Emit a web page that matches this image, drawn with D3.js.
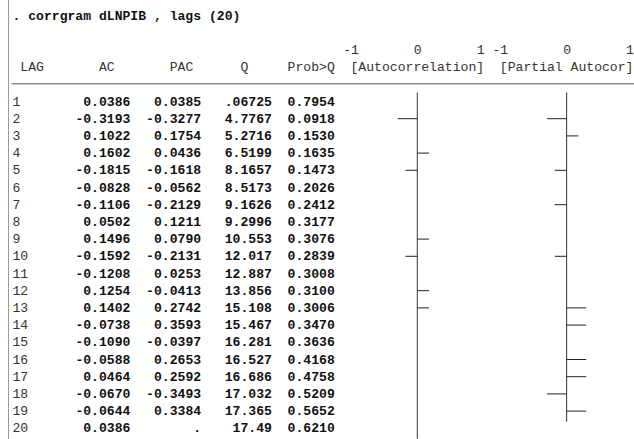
<!doctype html>
<html>
  <head>
    <meta charset="utf-8">
    <title>corrgram dLNPIB</title>
    <style>
      body { margin: 0; background: #fff; }
      text { font-family: "Liberation Mono", "Courier New", monospace; font-size: 13.1px; }
      .res { font-weight: bold; fill: #111; }
      .txt { fill: #333; }
    </style>
    <script src="https://cdnjs.cloudflare.com/ajax/libs/d3/7.8.5/d3.min.js"></script>
  </head>
  <body>
    <div id="my-svg-chart"></div>
    <script>
      // Daten aus dem Stata-Output
      const command = ". corrgram dLNPIB , lags (20)";
      const headers = ["LAG", "AC", "PAC", "Q", "Prob>Q", "[Autocorrelation]", "[Partial Autocor]"];
      const ticks = [-1, 0, 1];
      const lags = [1, 2, 3, 4, 5, 6, 7, 8, 9, 10, 11, 12, 13, 14, 15, 16, 17, 18, 19, 20];
      const ac = [0.0386, -0.3193, 0.1022, 0.1602, -0.1815, -0.0828, -0.1106, 0.0502, 0.1496, -0.1592,
                  -0.1208, 0.1254, 0.1402, -0.0738, -0.1090, -0.0588, 0.0464, -0.0670, -0.0644, 0.0386];
      const pac = [0.0385, -0.3277, 0.1754, 0.0436, -0.1618, -0.0562, -0.2129, 0.1211, 0.0790, -0.2131,
                   0.0253, -0.0413, 0.2742, 0.3593, -0.0397, 0.2653, 0.2592, -0.3493, 0.3384, null];
      const q = [0.06725, 4.7767, 5.2716, 6.5199, 8.1657, 8.5173, 9.1626, 9.2996, 10.553, 12.017,
                 12.887, 13.856, 15.108, 15.467, 16.281, 16.527, 16.686, 17.032, 17.365, 17.49];
      const prob = [0.7954, 0.0918, 0.1530, 0.1635, 0.1473, 0.2026, 0.2412, 0.3177, 0.3076, 0.2839,
                    0.3008, 0.3100, 0.3006, 0.3470, 0.3636, 0.4168, 0.4758, 0.5209, 0.5652, 0.6210];

      const data = lags.map((l, i) => ({ lag: l, ac: ac[i], pac: pac[i], q: q[i], prob: prob[i] }));

      const width = 634, height = 439;
      const cw = 7.86;              // Breite eines Zeichens (monospace)
      const col = c => 12.5 + c * cw;  // Spalte -> x
      const lineY = d3.scaleLinear().domain([0, 1]).range([15, 32.2]); // Zeile -> y (Mitte)
      const rowLine = lag => lag + 4;  // Datenzeilen starten bei Zeile 5

      // Stata-Format fuer Q (%9.0g-aehnlich)
      const fmtQ = v => {
        let s = (+v.toPrecision(5)).toString();
        if (s.startsWith("0.")) s = s.slice(1);
        return s;
      };
      const fmt4 = v => v == null ? "." : v.toFixed(4);

      const svg = d3.select('#my-svg-chart')
        .append('svg')
        .attr('width', width)
        .attr('height', height);

      // linker Rand des Fensters
      svg.append('line')
        .attr('x1', 8.5).attr('x2', 8.5)
        .attr('y1', 0).attr('y2', height)
        .attr('stroke', '#9a9a9a');

      // Befehlszeile
      svg.append('text')
        .attr('class', 'res')
        .attr('x', col(0))
        .attr('y', lineY(0) + 4.5)
        .text(command);

      // Kopfzeile (rechtsbuendig an Spaltenende)
      const headEnd = [4, 13, 23, 30, 41, 60, 79];
      svg.selectAll('text.head')
        .data(headers)
        .join('text')
        .attr('class', 'head txt')
        .attr('x', (d, i) => col(headEnd[i]))
        .attr('y', lineY(3) + 4.5)
        .attr('text-anchor', 'end')
        .text(d => d);

      // Trennlinie
      svg.append('line')
        .attr('x1', col(0) - 1).attr('x2', width)
        .attr('y1', lineY(4)).attr('y2', lineY(4))
        .attr('stroke', '#555');

      // Skalen fuer die beiden Textplots (8 Zeichen pro Einheit)
      const xAC = d3.scaleLinear().domain([-1, 1]).range([col(43.5), col(59.5)]);
      const xPAC = d3.scaleLinear().domain([-1, 1]).range([col(62.5), col(78.5)]);

      [xAC, xPAC].forEach(sc => {
        svg.append('g')
          .attr('transform', `translate(0,${lineY(2) + 4.5})`)
          .call(d3.axisTop(sc).tickValues(ticks).tickSize(0).tickPadding(0).tickFormat(d => String(d)))
          .call(g => g.select('.domain').remove())
          .call(g => g.selectAll('text')
            .attr('class', 'txt')
            .attr('fill', null)
            .attr('font-family', null).attr('font-size', null)
            .attr('text-anchor', 'end')
            .attr('dy', 0)
            .attr('dx', cw / 2))
          .attr('font-family', null).attr('font-size', null);
      });

      // Zeilen
      const rows = svg.selectAll('g.row')
        .data(data)
        .join('g')
        .attr('class', 'row')
        .attr('transform', d => `translate(0,${lineY(rowLine(d.lag))})`);

      rows.append('text').attr('class', 'txt')
        .attr('x', col(0)).attr('y', 4.5)
        .text(d => d.lag);

      const cols = [
        { end: 15, f: d => fmt4(d.ac) },
        { end: 24, f: d => fmt4(d.pac) },
        { end: 33, f: d => fmtQ(d.q) },
        { end: 41, f: d => d.prob.toFixed(4) }
      ];
      cols.forEach(c => {
        rows.append('text').attr('class', 'res')
          .attr('x', col(c.end)).attr('y', 4.5)
          .attr('text-anchor', 'end')
          .text(c.f);
      });

      // Stata zeichnet die Balken in ganzen Zeichen: trunc(|r|*8)
      const quant = v => Math.trunc(v * 8) / 8;

      function drawPlot(sc, key) {
        const valid = data.filter(d => d[key] != null);
        const last = d3.max(valid, d => d.lag);
        svg.append('line')
          .attr('x1', sc(0)).attr('x2', sc(0))
          .attr('y1', lineY(rowLine(1)) - 8.5)
          .attr('y2', lineY(rowLine(last)) + 11)
          .attr('stroke', '#333');
        svg.selectAll('line.bar-' + key)
          .data(valid.filter(d => quant(d[key]) !== 0))
          .join('line')
          .attr('class', 'bar-' + key)
          .attr('x1', sc(0))
          .attr('x2', d => sc(quant(d[key])) + Math.sign(d[key]) * cw / 2)
          .attr('y1', d => lineY(rowLine(d.lag)) + 0.5)
          .attr('y2', d => lineY(rowLine(d.lag)) + 0.5)
          .attr('stroke', '#222');
      }
      drawPlot(xAC, 'ac');
      drawPlot(xPAC, 'pac');
    </script>
  </body>
</html>
